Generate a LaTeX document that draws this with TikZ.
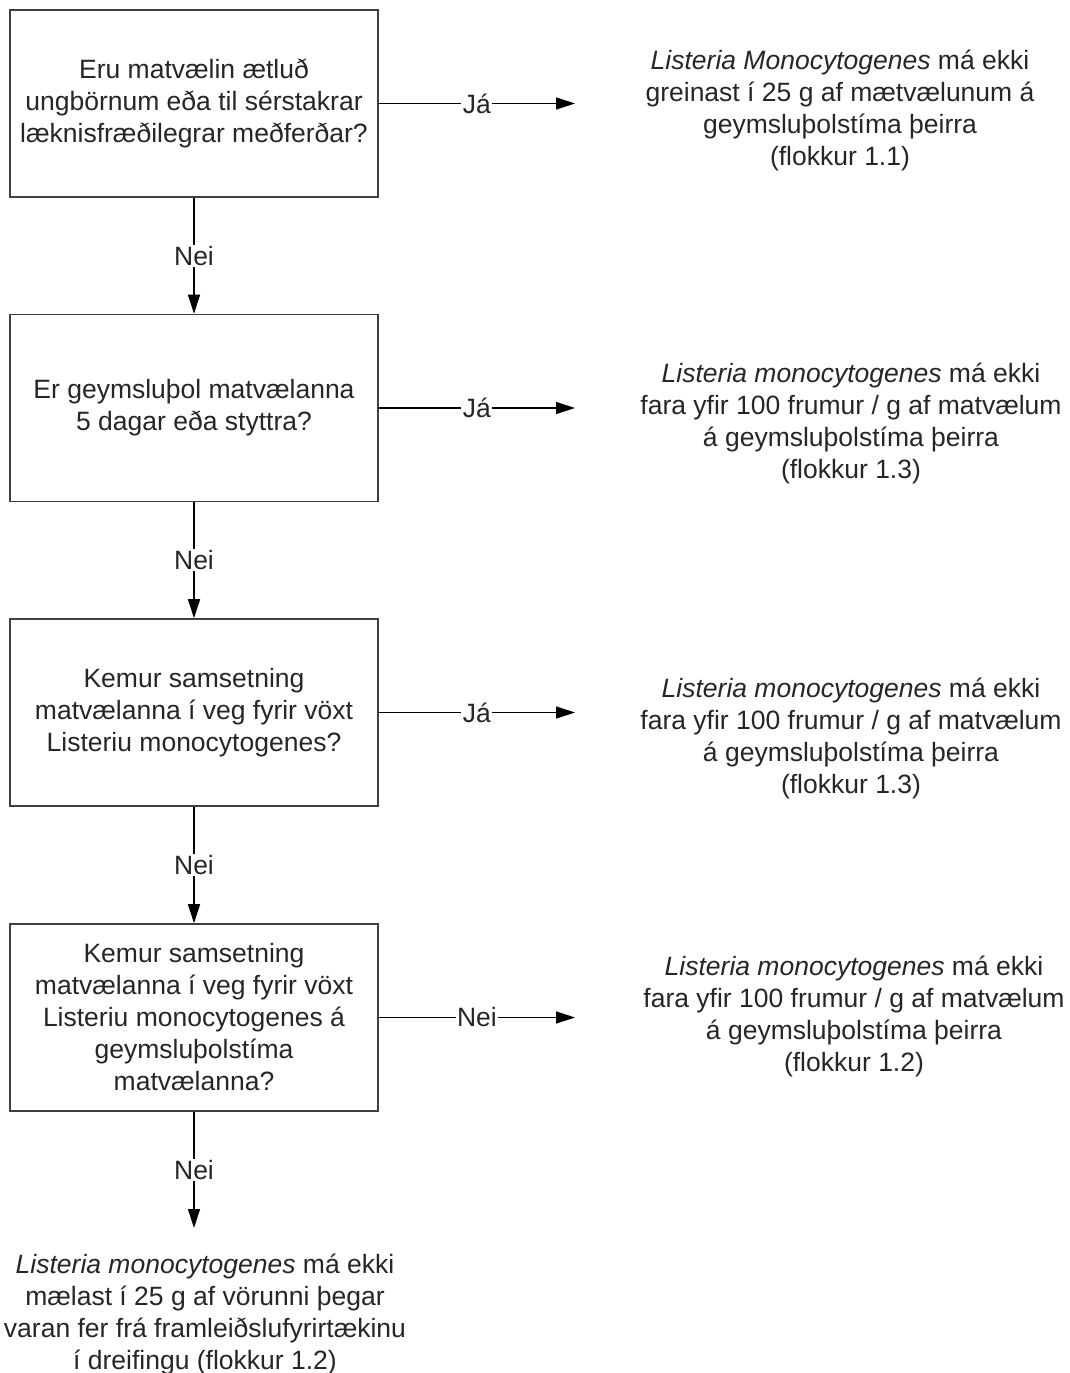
\documentclass[tikz,border=0pt]{standalone}
\usepackage{fontspec}
\setmainfont{Liberation Sans}
\usetikzlibrary{arrows.meta}
\newcommand\fsz{\fontsize{26.5pt}{32pt}\selectfont}
\begin{document}
\begin{tikzpicture}[x=1pt,y=-1pt,
  box/.style={draw=black!75, line width=1.6pt, minimum width=368pt, minimum height=187pt, align=center, inner sep=0pt, font=\fsz, text=black!85},
  res/.style={align=center, inner sep=0pt, font=\fsz, text=black!85},
  arr/.style={draw=black, line width=1.3pt, -{Triangle[length=19pt,width=12pt]}},
  lbl/.style={fill=white, inner sep=1.5pt, font=\fsz, text=black!85}]
\fill[white] (0,0) rectangle (1069,1373);
\useasboundingbox (0,0) rectangle (1069,1373);

\node[box] (b1) at (194,103.5) {Eru matvælin ætluð\\ungbörnum eða til sérstakrar\\læknisfræðilegrar meðferðar?};
\node[box] (b2) at (194,408) {Er geymsluþol matvælanna\\5 dagar eða styttra?};
\node[box] (b3) at (194,712.5) {Kemur samsetning\\matvælanna í veg fyrir vöxt\\Listeriu monocytogenes?};
\node[box] (b4) at (194,1017.5) {Kemur samsetning\\matvælanna í veg fyrir vöxt\\Listeriu monocytogenes á\\geymsluþolstíma\\matvælanna?};

\node[res] (r1) at (840,110) {\textit{Listeria Monocytogenes} má ekki\\greinast í 25 g af mætvælunum á\\geymsluþolstíma þeirra\\(flokkur 1.1)};
\node[res] (r2) at (851,423) {\textit{Listeria monocytogenes} má ekki\\fara yfir 100 frumur / g af matvælum\\á geymsluþolstíma þeirra\\(flokkur 1.3)};
\node[res] (r3) at (851,738) {\textit{Listeria monocytogenes} má ekki\\fara yfir 100 frumur / g af matvælum\\á geymsluþolstíma þeirra\\(flokkur 1.3)};
\node[res] (r4) at (854,1016) {\textit{Listeria monocytogenes} má ekki\\fara yfir 100 frumur / g af matvælum\\á geymsluþolstíma þeirra\\(flokkur 1.2)};
\node[res] (r5) at (205,1314) {\textit{Listeria monocytogenes} má ekki\\mælast í 25 g af vörunni þegar\\varan fer frá framleiðslufyrirtækinu\\í dreifingu (flokkur 1.2)};

\coordinate (t1) at (575,103.5);
\coordinate (t2) at (575,408);
\coordinate (t3) at (575,712.5);
\coordinate (t4) at (575,1017.5);
\coordinate (t5) at (194,1228);

\draw[arr] (b1.east) -- node[lbl] {Já} (t1);
\draw[arr] (b2.east) -- node[lbl] {Já} (t2);
\draw[arr] (b3.east) -- node[lbl] {Já} (t3);
\draw[arr] (b4.east) -- node[lbl] {Nei} (t4);

\draw[arr] (b1.south) -- node[lbl] {Nei} (b2.north);
\draw[arr] (b2.south) -- node[lbl] {Nei} (b3.north);
\draw[arr] (b3.south) -- node[lbl] {Nei} (b4.north);
\draw[arr] (b4.south) -- node[lbl] {Nei} (t5);
\end{tikzpicture}
\end{document}
